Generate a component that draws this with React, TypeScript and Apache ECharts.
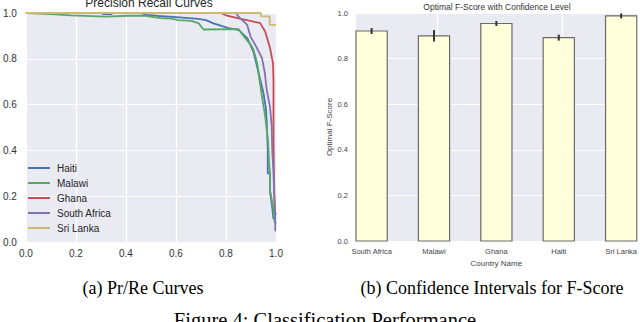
import React, { useEffect, useRef } from "react";
import * as echarts from "echarts";

// ---- Left: precision/recall curves ([recall, precision]) ----
const countries = ["Haiti", "Malawi", "Ghana", "South Africa", "Sri Lanka"];
const curveColors = ["#4C72B0", "#55A868", "#C44E52", "#8172B2", "#CCB974"];

const haitiPR: [number, number][] = [
  [0, 1], [0.3, 1], [0.31, 0.995], [0.34, 0.995], [0.35, 1], [0.46, 1], [0.48, 0.992],
  [0.53, 0.987], [0.6, 0.982], [0.69, 0.974], [0.72, 0.969], [0.75, 0.955], [0.81, 0.934],
  [0.85, 0.926], [0.885, 0.89], [0.91, 0.83], [0.93, 0.74], [0.95, 0.65], [0.96, 0.58],
  [0.963, 0.52], [0.967, 0.4], [0.967, 0.3], [0.976, 0.3], [0.976, 0.22], [0.985, 0.15],
  [0.99, 0.1],
];
const malawiPR: [number, number][] = [
  [0, 1], [0.1, 0.995], [0.18, 0.99], [0.32, 0.984], [0.41, 0.988], [0.48, 0.988],
  [0.537, 0.978], [0.58, 0.975], [0.61, 0.969], [0.66, 0.966], [0.69, 0.956], [0.71, 0.928],
  [0.85, 0.93], [0.87, 0.9], [0.9, 0.86], [0.91, 0.84], [0.925, 0.78], [0.93, 0.737],
  [0.944, 0.635], [0.957, 0.547], [0.963, 0.489], [0.968, 0.445], [0.972, 0.35],
  [0.976, 0.3], [0.976, 0.227], [0.988, 0.153], [0.995, 0.087], [1.0, 0.08],
];
const ghanaPR: [number, number][] = [
  [0, 1], [0.78, 1], [0.8, 0.99], [0.85, 0.977], [0.937, 0.956], [0.957, 0.918],
  [0.976, 0.847], [0.988, 0.78], [0.99, 0.7], [0.99, 0.45], [0.992, 0.27], [0.994, 0.18],
  [0.996, 0.13], [1.0, 0.12],
];
const southAfricaPR: [number, number][] = [
  [0, 1], [0.84, 1], [0.85, 0.984], [0.885, 0.948], [0.898, 0.897], [0.924, 0.847],
  [0.944, 0.803], [0.955, 0.74], [0.963, 0.664], [0.976, 0.59], [0.983, 0.503],
  [0.985, 0.4], [0.99, 0.3], [0.993, 0.2], [0.997, 0.12], [0.997, 0.05], [1.0, 0.05],
];
const sriLankaPR: [number, number][] = [
  [0, 1], [0.94, 1], [0.94, 0.985], [0.975, 0.985], [0.975, 0.948], [1.0, 0.948],
];
const curves = [haitiPR, malawiPR, ghanaPR, southAfricaPR, sriLankaPR];

// ---- Right: optimal F-score with confidence ----
const barCountries = ["South Africa", "Malawi", "Ghana", "Haiti", "Sri Lanka"];
const fScores = [0.921, 0.9, 0.954, 0.892, 0.987];
const fErrors = [0.013, 0.025, 0.011, 0.013, 0.011];

const SANS = "'Liberation Sans', Arial, sans-serif";
const SERIF = "'Liberation Serif', 'Times New Roman', serif";

export default function App() {
  const ref = useRef<HTMLDivElement>(null);
  useEffect(() => {
    if (!ref.current) return;
    const chart = echarts.init(ref.current, null, { renderer: "svg" });

    const lineSeries = countries.map((name, i) => ({
      type: "line",
      name,
      xAxisIndex: 0,
      yAxisIndex: 0,
      data: curves[i],
      symbol: "none",
      showSymbol: false,
      lineStyle: { color: curveColors[i], width: 1.8 },
      itemStyle: { color: curveColors[i] },
      z: 3 + i,
    }));

    const barData = barCountries.map((_, i) => [i, fScores[i], fErrors[i]]);

    const option: any = {
      animation: false,
      backgroundColor: "#ffffff",
      textStyle: { fontFamily: SANS },
      grid: [
        { left: 21, top: 13, width: 255, height: 229, show: true, backgroundColor: "#EAEAF2", borderWidth: 0 },
        { left: 356, top: 13, width: 281, height: 228, show: true, backgroundColor: "#EAEAF2", borderWidth: 0 },
      ],
      xAxis: [
        {
          type: "value", gridIndex: 0, min: 0, max: 1, interval: 0.2,
          axisLine: { show: false }, axisTick: { show: false },
          splitLine: { show: true, lineStyle: { color: "#ffffff", width: 1.2 } },
          axisLabel: { fontSize: 10, color: "#333", margin: 6, fontFamily: SANS, formatter: (v: number) => v.toFixed(1) },
        },
        {
          type: "value", gridIndex: 1, min: 0, max: 4.5,
          name: "Country Name", nameLocation: "middle", nameGap: 17,
          nameTextStyle: { fontSize: 8, color: "#444", fontFamily: SANS },
          axisLine: { show: false },
          axisTick: { show: false, customValues: [1.3, 3.3] },
          splitLine: { show: true, lineStyle: { color: "#ffffff", width: 1.2 } },
          axisLabel: {
            fontSize: 7.5, color: "#444", margin: 6, fontFamily: SANS,
            customValues: barCountries.map((_, i) => i + 0.25),
            formatter: (v: number) => barCountries[Math.round(v - 0.25)] ?? "",
          },
        },
      ],
      yAxis: [
        {
          type: "value", gridIndex: 0, min: 0, max: 1, interval: 0.2,
          axisLine: { show: false }, axisTick: { show: false },
          splitLine: { show: true, lineStyle: { color: "#ffffff", width: 1.2 } },
          axisLabel: { fontSize: 10, color: "#333", margin: 9, fontFamily: SANS, formatter: (v: number) => v.toFixed(1) },
        },
        {
          type: "value", gridIndex: 1, min: 0, max: 1, interval: 0.2,
          name: "Optimal F-Score", nameLocation: "middle", nameGap: 21,
          nameTextStyle: { fontSize: 8, color: "#444", fontFamily: SANS },
          axisLine: { show: false }, axisTick: { show: false },
          splitLine: { show: true, lineStyle: { color: "#ffffff", width: 1.2 } },
          axisLabel: { fontSize: 7.5, color: "#444", margin: 8, fontFamily: SANS, formatter: (v: number) => v.toFixed(1) },
        },
      ],
      legend: {
        data: countries.map((name) => ({ name, icon: "rect" })),
        orient: "vertical",
        left: 28,
        top: 163,
        itemWidth: 22,
        itemHeight: 2,
        itemGap: 5,
        padding: 0,
        textStyle: { fontSize: 10, color: "#262626", fontFamily: SANS, lineHeight: 10, padding: [0, 0, 0, 2] },
      },
      series: [
        ...lineSeries,
        {
          type: "custom",
          name: "F-Score",
          xAxisIndex: 1,
          yAxisIndex: 1,
          data: barData,
          encode: { x: 0, y: 1 },
          z: 3,
          renderItem: (params: any, api: any) => {
            const i = api.value(0);
            const v = api.value(1);
            const e = api.value(2);
            const p0 = api.coord([i, 0]);
            const p1 = api.coord([i + 0.5, v]);
            const cx = api.coord([i + 0.25, v])[0];
            const yTop = api.coord([i + 0.25, v + e])[1];
            const yBot = api.coord([i + 0.25, v - e])[1];
            return {
              type: "group",
              children: [
                {
                  type: "rect",
                  shape: { x: p0[0], y: p1[1], width: p1[0] - p0[0], height: p0[1] - p1[1] },
                  style: { fill: "#FFFFDC", stroke: "#6a6a6a", lineWidth: 1.2 },
                },
                {
                  type: "line",
                  shape: { x1: cx, y1: yTop, x2: cx, y2: yBot },
                  style: { stroke: "#333333", lineWidth: 2 },
                },
              ],
            };
          },
        },
      ],
      graphic: [
        { type: "text", x: 149, y: 3, style: { text: "Precision Recall Curves", fontSize: 12, fontFamily: SANS, fill: "#262626", align: "center", verticalAlign: "middle" } },
        { type: "text", x: 497, y: 6.5, style: { text: "Optimal F-Score with Confidence Level", fontSize: 8.5, fontFamily: SANS, fill: "#333", align: "center", verticalAlign: "middle" } },
        { type: "text", x: 143, y: 287.5, style: { text: "(a) Pr/Re Curves", fontSize: 18, fontFamily: SERIF, fill: "#000", align: "center", verticalAlign: "middle" } },
        { type: "text", x: 492, y: 287.5, style: { text: "(b) Confidence Intervals for F-Score", fontSize: 18, fontFamily: SERIF, fill: "#000", align: "center", verticalAlign: "middle" } },
        { type: "text", x: 325, y: 319.5, style: { text: "Figure 4: Classification Performance", fontSize: 20.5, fontFamily: SERIF, fill: "#000", align: "center", verticalAlign: "middle" } },
      ],
    };
    chart.setOption(option);
    return () => chart.dispose();
  }, []);
  return <div ref={ref} style={{ position: "absolute", left: 0, top: 0, width: 640, height: 322 }} />;
}
